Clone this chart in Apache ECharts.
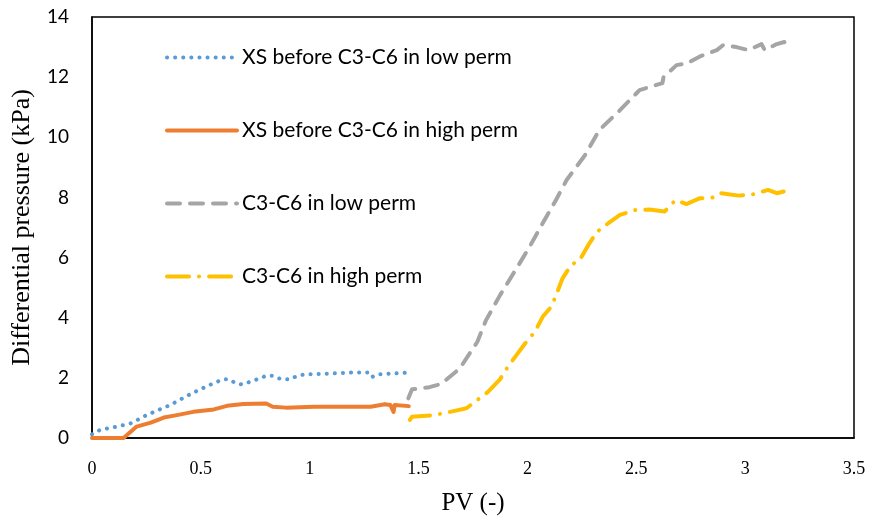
<!DOCTYPE html>
<html>
<head>
<meta charset="utf-8">
<script src="https://cdn.jsdelivr.net/npm/echarts@6/dist/echarts.min.js"></script>
<style>
  html, body { margin: 0; padding: 0; background: #fff; }
  #chart { width: 873px; height: 522px; }
</style>
</head>
<body>
<div id="chart"></div>
<script>
// 各曲线数据：[PV, 压差 kPa]
const seriesNames = [
  'XS before C3-C6 in low perm',
  'XS before C3-C6 in high perm',
  'C3-C6 in low perm',
  'C3-C6 in high perm'
];

const xsLow = [
  [0, 0.12], [0.037, 0.27], [0.11, 0.37], [0.18, 0.49], [0.25, 0.76], [0.36, 1.1],
  [0.46, 1.49], [0.53, 1.73], [0.6, 1.95], [0.63, 1.95], [0.66, 1.82], [0.69, 1.78],
  [0.77, 1.98], [0.8, 2.07], [0.83, 2.07], [0.87, 1.95], [0.91, 1.95], [0.94, 2.06],
  [0.98, 2.12], [1.05, 2.13], [1.2, 2.18], [1.28, 2.18], [1.29, 2.04], [1.32, 2.12],
  [1.445, 2.17]
];

const xsHigh = [
  [0, 0], [0.145, 0], [0.205, 0.38], [0.27, 0.51], [0.33, 0.68], [0.39, 0.76],
  [0.465, 0.87], [0.56, 0.95], [0.62, 1.07], [0.695, 1.13], [0.8, 1.15], [0.83, 1.04],
  [0.89, 1.01], [1.02, 1.04], [1.155, 1.04], [1.28, 1.04], [1.345, 1.12], [1.37, 1.1],
  [1.385, 0.87], [1.39, 1.1], [1.455, 1.06]
];

const c36Low = [
  [1.453, 1.32], [1.47, 1.62], [1.55, 1.69], [1.605, 1.8], [1.69, 2.32], [1.77, 3.2],
  [1.81, 3.92], [1.875, 4.76], [1.95, 5.64], [2.01, 6.36], [2.07, 7.14], [2.13, 7.9],
  [2.18, 8.58], [2.265, 9.41], [2.33, 10.24], [2.425, 10.9], [2.515, 11.57], [2.62, 11.8],
  [2.625, 12.0], [2.685, 12.4], [2.73, 12.45], [2.79, 12.68], [2.87, 12.9], [2.9, 13.07],
  [2.96, 13.0], [3.015, 12.9], [3.075, 13.1], [3.09, 12.9], [3.145, 13.1], [3.18, 13.17],
  [3.19, 13.0]
];

const c36High = [
  [1.46, 0.6], [1.47, 0.71], [1.57, 0.76], [1.645, 0.87], [1.72, 0.99], [1.82, 1.54],
  [1.875, 1.96], [1.91, 2.37], [1.99, 3.15], [2.035, 3.54], [2.07, 4.03], [2.11, 4.37],
  [2.135, 4.81], [2.16, 5.29], [2.2, 5.75], [2.24, 5.92], [2.28, 6.42], [2.32, 6.86],
  [2.38, 7.19], [2.425, 7.42], [2.495, 7.58], [2.56, 7.6], [2.63, 7.53], [2.68, 7.91],
  [2.73, 7.78], [2.79, 7.97], [2.86, 8.0], [2.89, 8.14], [2.97, 8.06], [3.04, 8.11],
  [3.105, 8.25], [3.145, 8.14], [3.19, 8.22]
];

const colors = ['#5B9BD5', '#ED7D31', '#A5A5A5', '#FFC000'];

const serif = '"Liberation Serif", "Times New Roman", serif';
const sans = 'Lato, "Open Sans", sans-serif';

const chart = echarts.init(document.getElementById('chart'));

function line(name, data, color, lineStyle) {
  return {
    name,
    type: 'line',
    data,
    symbol: 'none',
    color,
    lineStyle: Object.assign({ color, cap: 'round', join: 'round' }, lineStyle),
    animation: false
  };
}

chart.setOption({
  animation: false,
  grid: {
    left: 92, right: 19, top: 17, bottom: 84,
    show: true, borderColor: '#000', borderWidth: 1.5
  },
  legend: {
    orient: 'vertical',
    left: 160,
    top: 42,
    itemWidth: 70,
    itemHeight: 14,
    itemGap: 52,
    itemStyle: { opacity: 0 },
    lineStyle: { width: 4 },
    textStyle: { fontFamily: sans, fontSize: 21, color: '#000' },
    data: seriesNames
  },
  xAxis: {
    type: 'value',
    min: 0, max: 3.5, interval: 0.5,
    name: 'PV (-)',
    nameLocation: 'middle',
    nameGap: 53,
    nameTextStyle: { fontFamily: serif, fontSize: 25, color: '#000' },
    axisLine: { show: true, lineStyle: { color: '#000', width: 1.5 } },
    axisTick: { show: false },
    splitLine: { show: false },
    axisLabel: { fontFamily: serif, fontSize: 18, color: '#000', margin: 22 }
  },
  yAxis: {
    type: 'value',
    min: 0, max: 14, interval: 2,
    name: 'Differential pressure (kPa)',
    nameLocation: 'middle',
    nameGap: 57,
    nameTextStyle: { fontFamily: serif, fontSize: 26, color: '#000' },
    axisLine: { show: true, lineStyle: { color: '#000', width: 1.5 } },
    axisTick: { show: false },
    splitLine: { show: false },
    axisLabel: { fontFamily: sans, fontSize: 19, color: '#000', margin: 23 }
  },
  series: [
    line(seriesNames[0], xsLow, colors[0], { width: 4, type: [0.1, 8] }),
    line(seriesNames[1], xsHigh, colors[1], { width: 4, type: 'solid' }),
    line(seriesNames[2], c36Low, colors[2], { width: 4, type: [13, 10] }),
    line(seriesNames[3], c36High, colors[3], { width: 4, type: [22, 10, 0.1, 10] })
  ]
});
</script>
</body>
</html>
